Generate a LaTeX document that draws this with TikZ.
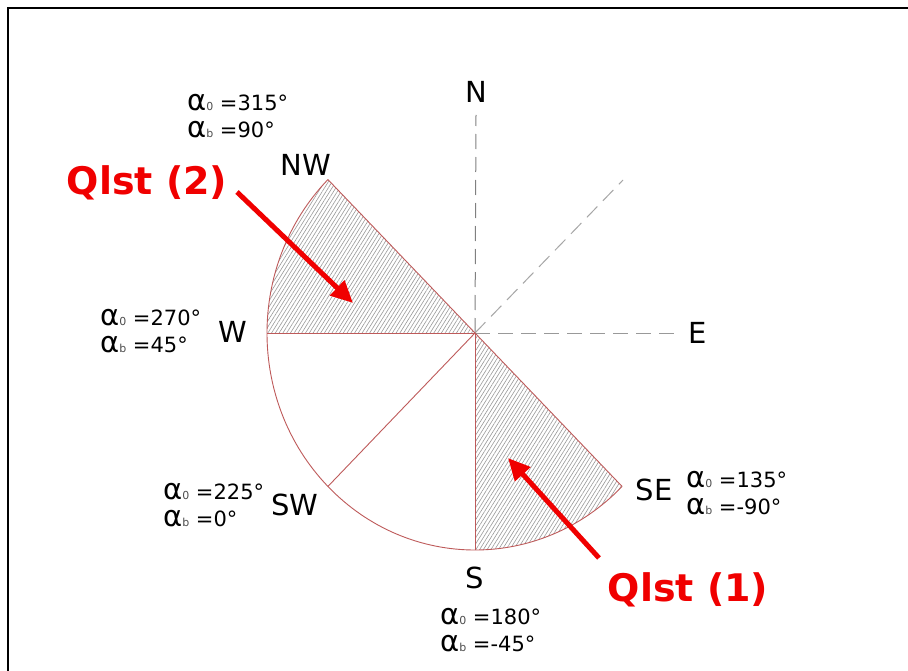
\documentclass[tikz,border=0pt]{standalone}
\usepackage{fontspec}
\setmainfont{DejaVu Sans}
\usetikzlibrary{calc,patterns.meta,arrows.meta}
\definecolor{secred}{RGB}{190,90,90}
\definecolor{qred}{RGB}{240,0,0}
\newcommand\alf[1]{{\fontsize{29}{29}\selectfont α}{\fontsize{11}{11}\selectfont\color{black!70}#1}}
\begin{document}
\begin{tikzpicture}[x=1pt,y=-1pt,
  compass/.style={font=\fontsize{29}{29}\selectfont, inner sep=0pt},
  alab/.style={font=\fontsize{21}{27}\selectfont, align=left, anchor=west, inner sep=0pt},
  qlab/.style={font=\fontsize{38}{38}\selectfont\bfseries, text=qred, inner sep=0pt},
  guide/.style={gray!80, line width=1pt, dash pattern=on 15pt off 8pt},
  sector/.style={draw=secred, line width=0.9pt},
  hatch/.style={pattern={Lines[angle=58,distance=3.2pt,line width=0.6pt]}, pattern color=gray!80},
  qarrow/.style={qred, line width=5pt, -{Triangle[length=22pt,width=20pt]}}]
\useasboundingbox (0,0) rectangle (908,671);
\fill[white] (0,0) rectangle (908,671);
\draw[line width=1.5pt] (908,8) -- (8,8) -- (8,671);
\coordinate (O) at (475,333);
\coordinate (NWp) at ($(O)+(135:208pt and 217pt)$);
\coordinate (Wp) at ($(O)+(180:208pt and 217pt)$);
\coordinate (SWp) at ($(O)+(225:208pt and 217pt)$);
\coordinate (Sp) at ($(O)+(270:208pt and 217pt)$);
\coordinate (SEp) at ($(O)+(315:208pt and 217pt)$);
\coordinate (Nend) at (476,115);
\coordinate (Eend) at (680,333);
\coordinate (NEend) at (623,180);
% guide lines
\draw[guide, gray] (O) -- (Nend);
\draw[guide] (O) -- (Eend);
\draw[guide, gray!70] (O) -- (NEend);
% hatched sectors
\fill[hatch] (O) -- (NWp) arc[start angle=135, end angle=180, x radius=208pt, y radius=217pt] -- cycle;
\fill[hatch] (O) -- (Sp) arc[start angle=270, end angle=315, x radius=208pt, y radius=217pt] -- cycle;
% outlines
\draw[sector] (NWp) arc[start angle=135, end angle=315, x radius=208pt, y radius=217pt];
\draw[sector] (O) -- (NWp);
\draw[sector] (O) -- (Wp);
\draw[sector] (O) -- (SWp);
\draw[sector] (O) -- (Sp);
\draw[sector] (O) -- (SEp);
% compass labels
\node[compass] (N) at (476,92) {N};
\node[compass] (NW) at (306,165) {NW};
\node[compass] (W) at (233,332) {W};
\node[compass] (E) at (698,333) {E};
\node[compass] (SW) at (295,505) {SW};
\node[compass] (SE) at (654,490) {SE};
\node[compass] (S) at (475,578) {S};
% angle labels
\node[alab] (lNW) at (187,116) {\alf{0} =315°\\\alf{b} =90°};
\node[alab] (lW) at (100,331) {\alf{0} =270°\\\alf{b} =45°};
\node[alab] (lSW) at (163,505) {\alf{0} =225°\\\alf{b} =0°};
\node[alab] (lSE) at (686,493) {\alf{0} =135°\\\alf{b} =-90°};
\node[alab] (lS) at (440,630) {\alf{0} =180°\\\alf{b} =-45°};
% Qlst labels
\node[qlab] (q2) at (147,183) {Qlst (2)};
\node[qlab] (q1) at (688,590) {Qlst (1)};
\coordinate (a2s) at (237,192);
\coordinate (a2e) at (353,303);
\coordinate (a1s) at (599,558);
\coordinate (a1e) at (508,458);
\draw[qarrow] (a2s) -- (a2e);
\draw[qarrow] (a1s) -- (a1e);
\end{tikzpicture}
\end{document}
